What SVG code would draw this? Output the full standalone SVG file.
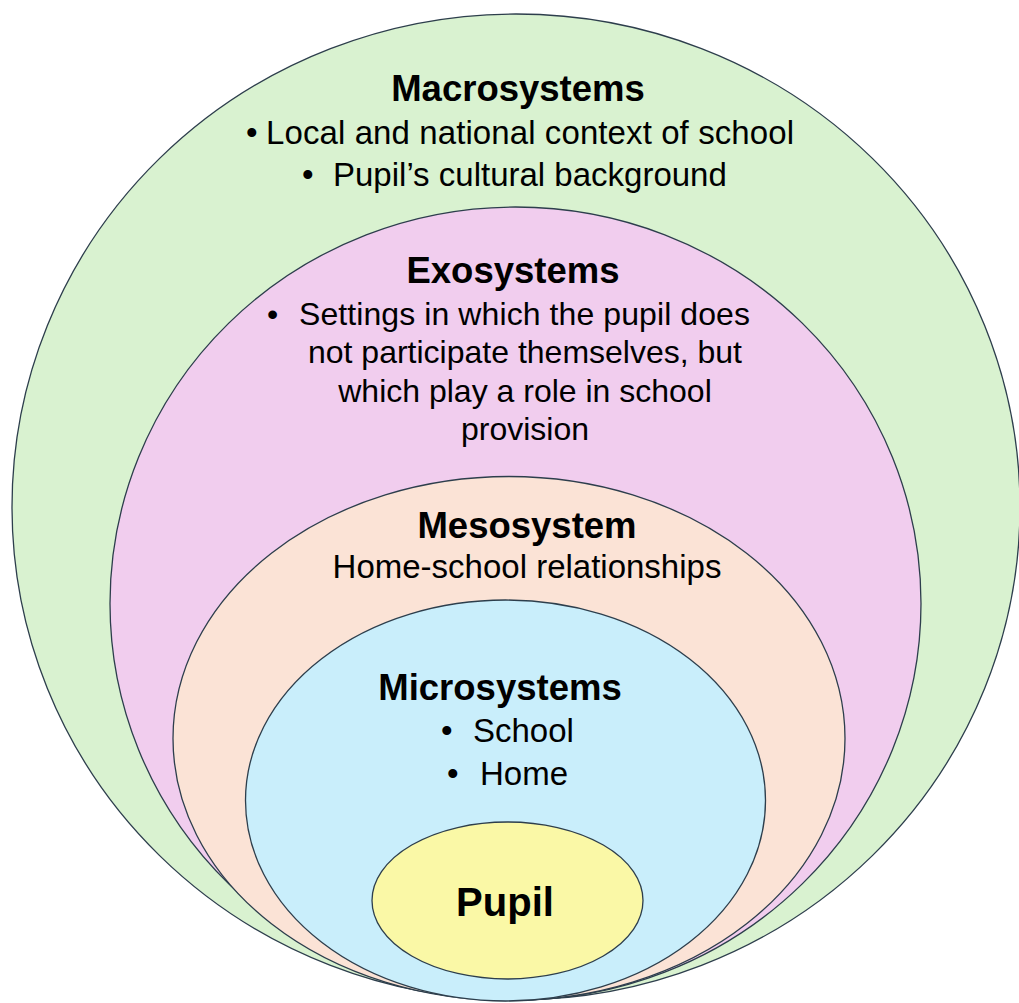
<svg xmlns="http://www.w3.org/2000/svg" width="1019" height="1003" viewBox="0 0 1019 1003">
<style>
  .ring { stroke: #2d3e4c; stroke-width: 1.3; }
  .head { font-family: "Liberation Sans", Arial, sans-serif; font-weight: bold; font-size: 36.5px; fill: #000; }
  .body { font-family: "Liberation Sans", Arial, sans-serif; font-size: 33px; fill: #000; }
  .exo { font-size: 32px; }
  .mid { text-anchor: middle; }
</style>
<rect x="0" y="0" width="1019" height="1003" fill="#ffffff"/>
<g id="macrosystems">
  <ellipse class="ring" cx="516" cy="507" rx="504" ry="493" fill="#d9f2d0"/>
  <text class="head mid" x="518" y="101">Macrosystems</text>
  <text class="body" x="246" y="144">•</text>
  <text class="body" x="266" y="144" textLength="528">Local and national context of school</text>
  <text class="body" x="302" y="186">•</text>
  <text class="body" x="333" y="186">Pupil’s cultural background</text>
</g>
<g id="exosystems">
  <ellipse class="ring" cx="515.5" cy="603.5" rx="405.5" ry="396.5" fill="#f1cdee"/>
  <text class="head mid" x="513" y="283">Exosystems</text>
  <text class="body exo" x="267" y="325">•</text>
  <text class="body exo" x="299" y="325" textLength="451">Settings in which the pupil does</text>
  <text class="body exo mid" x="525" y="363">not participate themselves, but</text>
  <text class="body exo mid" x="525" y="402">which play a role in school</text>
  <text class="body exo mid" x="525" y="440">provision</text>
</g>
<g id="mesosystem">
  <ellipse class="ring" cx="509" cy="738.5" rx="336" ry="262" fill="#fbe3d6"/>
  <text class="head mid" x="527" y="538">Mesosystem</text>
  <text class="body mid" x="527" y="578">Home-school relationships</text>
</g>
<g id="microsystems">
  <ellipse class="ring" cx="505.5" cy="800.5" rx="260" ry="200.5" fill="#c9eefb"/>
  <text class="head mid" x="500" y="700">Microsystems</text>
  <text class="body" x="441" y="742">•</text>
  <text class="body" x="473" y="742">School</text>
  <text class="body" x="447" y="785">•</text>
  <text class="body" x="480" y="785">Home</text>
</g>
<g id="pupil">
  <ellipse class="ring" cx="507.5" cy="900.5" rx="135.5" ry="78.5" fill="#faf8a6"/>
  <text class="head mid" x="505" y="916" style="font-size:40px">Pupil</text>
</g>
<g id="connectors"></g>
</svg>
